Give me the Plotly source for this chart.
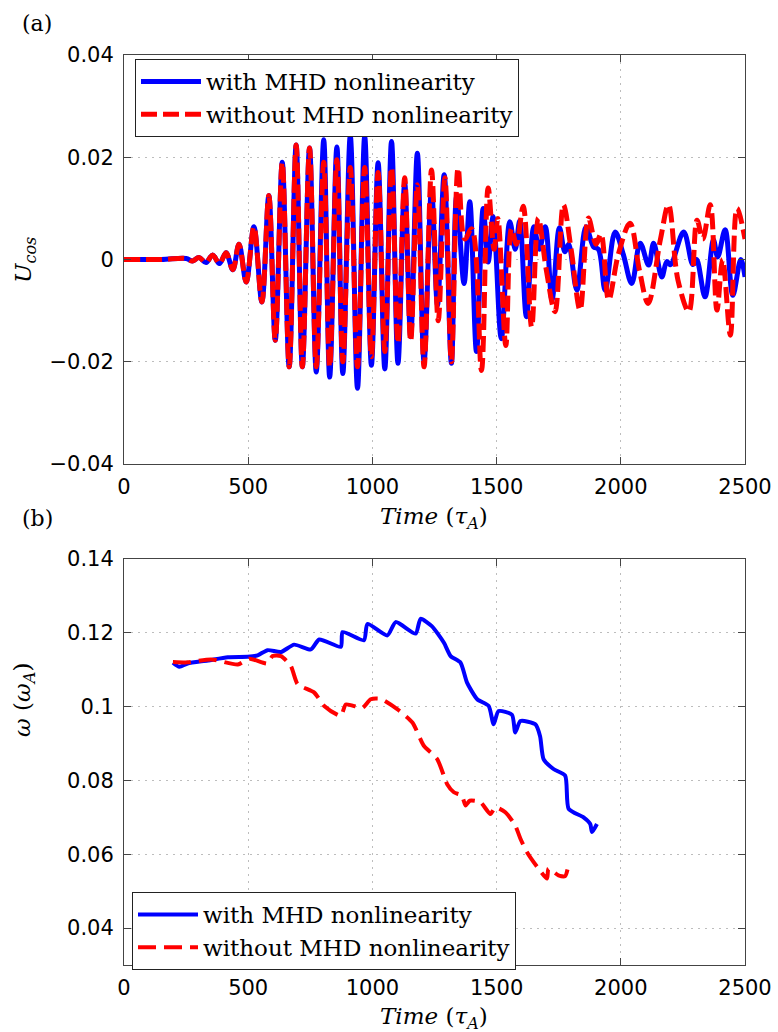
import plotly.graph_objects as go

# ---------------- data: panel (a) U_cos vs time (extrema) ----------------
t_with = [0, 150, 250, 275, 302, 330, 357, 384, 411, 438, 463, 492, 523, 555, 583, 609, 637, 665,
          693, 718, 747, 774, 804, 828, 857, 881, 911, 940, 969, 996, 1023, 1050, 1077, 1103, 1130,
          1154, 1181, 1208, 1238, 1262, 1289, 1318, 1339, 1369, 1392, 1419, 1446, 1466, 1486, 1519,
          1553, 1575, 1593, 1620, 1650, 1672, 1696, 1723, 1753, 1775, 1790, 1823, 1860, 1890, 1910,
          1937, 1977, 2010, 2044, 2078, 2112, 2132, 2165, 2185, 2200, 2253, 2290, 2305, 2339, 2373,
          2390, 2420, 2451, 2483, 2500]
u_with = [0, 0, 0.0002, -0.0003, 0.0004, -0.0006, 0.0009, -0.0008, 0.0013, -0.002, 0.003, -0.0044,
          0.0064, -0.0083, 0.0125, -0.0158, 0.019, -0.021, 0.0224, -0.021, 0.0218, -0.022, 0.0234,
          -0.023, 0.022, -0.0223, 0.0242, -0.0252, 0.0241, -0.0207, 0.0189, -0.0214, 0.0231, -0.0203,
          0.0149, -0.0151, 0.0208, -0.020, 0.0136, -0.0089, 0.0166, -0.0203, 0.0123, -0.0047, 0.0113,
          -0.018, 0.010, -0.0005, 0.0084, -0.0155, 0.0074, 0.002, 0.0076, -0.0112, 0.0064, 0.002,
          0.0064, -0.0079, 0.0062, 0.0015, 0.003, -0.006, 0.0064, 0.0025, 0.002, -0.006, 0.0054,
          0.001, -0.0047, 0.0032, -0.0011, 0.0032, -0.0034, -0.0004, -0.001, 0.0054, -0.001, 0.0,
          -0.0073, 0.0038, 0.0005, 0.0058, -0.007, 0.0, -0.0034]

t_without = [0, 150, 250, 275, 302, 330, 357, 384, 411, 438, 463, 492, 523, 555, 583, 609, 637, 665,
             693, 718, 747, 774, 804, 828, 857, 881, 911, 940, 969, 996, 1023, 1050, 1077, 1103, 1130,
             1154, 1181, 1208, 1238, 1265, 1292, 1318, 1345, 1372, 1400, 1439, 1466, 1490, 1505, 1537,
             1560, 1580, 1607, 1641, 1668, 1700, 1735, 1769, 1800, 1836, 1870, 1900, 1920, 1951, 1990,
             2037, 2075, 2110, 2159, 2192, 2230, 2274, 2307, 2330, 2360, 2387, 2410, 2441, 2468, 2500]
u_without = [0, 0, 0.0002, -0.0003, 0.0004, -0.0006, 0.0009, -0.0008, 0.0013, -0.002, 0.003, -0.0044,
             0.0064, -0.0083, 0.0125, -0.0158, 0.019, -0.021, 0.0224, -0.021, 0.0218, -0.021, 0.019,
             -0.021, 0.0195, -0.020, 0.018, -0.021, 0.018, -0.019, 0.017, -0.018, 0.018, -0.0164,
             0.016, -0.016, 0.0146, -0.021, 0.0175, -0.012, 0.016, -0.020, 0.0179, 0.004, 0.006,
             -0.0217, 0.014, 0.002, 0.008, -0.0168, 0.006, 0.003, 0.0104, -0.0132, 0.0081, -0.002,
             -0.0102, 0.0107, 0.002, -0.0099, 0.0081, 0.003, 0.005, -0.0079, 0.001, 0.0071, -0.0021,
             -0.0086, 0.0038, 0.0107, -0.004, -0.0102, 0.0077, 0.004, 0.0107, -0.0099, 0.0, -0.0148,
             0.010, 0.004]

# ---------------- data: panel (b) omega vs time ----------------
t_w_with = [197, 223, 256, 337, 418, 498, 538, 578, 632, 685, 752, 786, 873, 880, 966, 980, 1060,
            1094, 1174, 1194, 1239, 1288, 1315, 1355, 1381, 1422, 1468, 1488, 1508, 1562, 1575, 1596,
            1656, 1675, 1689, 1729, 1776, 1790, 1850, 1877, 1884, 1904]
w_with = [0.1119, 0.1108, 0.1117, 0.1125, 0.1134, 0.1135, 0.1139, 0.1153, 0.1148, 0.1168, 0.1155,
          0.1182, 0.1162, 0.1202, 0.118, 0.1224, 0.1193, 0.1229, 0.1198, 0.1238, 0.1218, 0.1173,
          0.1137, 0.1119, 0.1065, 0.102, 0.1002, 0.0952, 0.0988, 0.0978, 0.093, 0.0961, 0.0952,
          0.092, 0.0858, 0.0831, 0.0813, 0.0723, 0.070, 0.0682, 0.066, 0.0682]

t_w_without = [197, 256, 351, 458, 505, 578, 598, 632, 672, 699, 766, 806, 873, 893, 960, 993, 1033,
               1100, 1161, 1207, 1261, 1301, 1328, 1360, 1375, 1392, 1435, 1475, 1495, 1535, 1575,
               1596, 1622, 1663, 1703, 1709, 1749, 1776, 1790]
w_without = [0.1121, 0.112, 0.1128, 0.1114, 0.113, 0.1117, 0.1137, 0.1137, 0.111, 0.1061, 0.1038,
             0.1002, 0.0975, 0.1006, 0.0997, 0.102, 0.1021, 0.0993, 0.0957, 0.0894, 0.0858, 0.079,
             0.0768, 0.0759, 0.0732, 0.0745, 0.0741, 0.0709, 0.0727, 0.0714, 0.0678, 0.0642, 0.0606,
             0.0566, 0.0534, 0.0561, 0.0543, 0.0541, 0.0574]

series_names = ["with MHD nonlinearity", "without MHD nonlinearity"]

x_ticks = [0, 500, 1000, 1500, 2000, 2500]
x_ticktext = ["0", "500", "1000", "1500", "2000", "2500"]
ya_ticks = [-0.04, -0.02, 0, 0.02, 0.04]
ya_ticktext = ["\u22120.04", "\u22120.02", "0", "0.02", "0.04"]
yb_ticks = [0.04, 0.06, 0.08, 0.1, 0.12, 0.14]
yb_ticktext = ["0.04", "0.06", "0.08", "0.1", "0.12", "0.14"]

assert len(t_with) == len(u_with)
assert len(t_without) == len(u_without)
assert len(t_w_with) == len(w_with)
assert len(t_w_without) == len(w_without)

# ---------------- figure ----------------
W, H = 778, 1032
BLUE = "#0000ff"
RED = "#ff0000"
SERIF = "DejaVu Serif"
SANS = "DejaVu Sans"

fig = go.Figure()

fig.add_trace(go.Scatter(x=t_with, y=u_with, mode="lines", name=series_names[0],
                         line=dict(color=BLUE, width=5, shape="spline", smoothing=1.0),
                         xaxis="x", yaxis="y", legend="legend"))
fig.add_trace(go.Scatter(x=t_without, y=u_without, mode="lines", name=series_names[1],
                         line=dict(color=RED, width=5, dash="16px,6px", shape="spline", smoothing=1.0),
                         xaxis="x", yaxis="y", legend="legend"))
fig.add_trace(go.Scatter(x=t_w_with, y=w_with, mode="lines", name=series_names[0],
                         line=dict(color=BLUE, width=4, shape="spline", smoothing=0.6),
                         xaxis="x2", yaxis="y2", legend="legend2"))
fig.add_trace(go.Scatter(x=t_w_without, y=w_without, mode="lines", name=series_names[1],
                         line=dict(color=RED, width=4, dash="18px,8px", shape="spline", smoothing=0.6),
                         xaxis="x2", yaxis="y2", legend="legend2"))

xdom = [124 / W, 745 / W]
axis_common = dict(showline=True, linecolor="#444", linewidth=1, mirror="ticks",
                   ticks="inside", ticklen=7, tickcolor="#444", automargin=False,
                   showgrid=True, gridcolor="#bdbdbd", gridwidth=1, griddash="2px,5px",
                   zeroline=False, tickfont=dict(family=SANS, size=21, color="black"))

fig.update_layout(
    width=W, height=H,
    margin=dict(l=0, r=0, t=0, b=0, autoexpand=False),
    paper_bgcolor="white", plot_bgcolor="white",
    xaxis=dict(domain=xdom, anchor="y", range=[0, 2500], tickvals=x_ticks, ticktext=x_ticktext,
               ticklabelstandoff=4, **axis_common),
    yaxis=dict(domain=[1 - 464 / H, 1 - 55 / H], anchor="x", range=[-0.04, 0.04],
               tickvals=ya_ticks, ticktext=ya_ticktext, ticklabelstandoff=5, **axis_common),
    xaxis2=dict(domain=xdom, anchor="y2", range=[0, 2500], tickvals=x_ticks, ticktext=x_ticktext,
                ticklabelstandoff=4, **axis_common),
    yaxis2=dict(domain=[1 - 965 / H, 1 - 559 / H], anchor="x2", range=[0.03, 0.14],
                tickvals=yb_ticks, ticktext=yb_ticktext, ticklabelstandoff=5, **axis_common),
    legend=dict(x=135 / W, y=1 - 59 / H, xanchor="left", yanchor="top",
                bgcolor="white", bordercolor="#222", borderwidth=1, itemwidth=60,
                font=dict(family=SERIF, size=23, color="black"), tracegroupgap=0),
    legend2=dict(x=132 / W, y=1 - 892 / H, xanchor="left", yanchor="top",
                 bgcolor="white", bordercolor="#222", borderwidth=1, itemwidth=60,
                 font=dict(family=SERIF, size=23, color="black"), tracegroupgap=0),
    showlegend=True,
)

title_font = dict(family=SERIF, size=23, color="black")
xt = "<i>Time</i> (<i>\u03c4</i><sub><i>A</i></sub>)"
annots = [
    dict(text="(a)", x=37 / W, y=1 - 23 / H, font=dict(family=SERIF, size=22, color="black")),
    dict(text="(b)", x=37 / W, y=1 - 518 / H, font=dict(family=SERIF, size=22, color="black")),
    dict(text=xt, x=434 / W, y=1 - 518 / H, font=title_font),
    dict(text=xt, x=434 / W, y=1 - 1018 / H, font=title_font),
    dict(text="<i>U</i><sub><i>cos</i></sub>", x=25 / W, y=1 - 260 / H, textangle=-90, font=title_font),
    dict(text="<i>\u03c9</i> (<i>\u03c9</i><sub><i>A</i></sub>)", x=24 / W, y=1 - 700 / H,
         textangle=-90, font=title_font),
]
for a in annots:
    fig.add_annotation(xref="paper", yref="paper", showarrow=False,
                       xanchor="center", yanchor="middle", **a)

fig.write_html("out.html")
